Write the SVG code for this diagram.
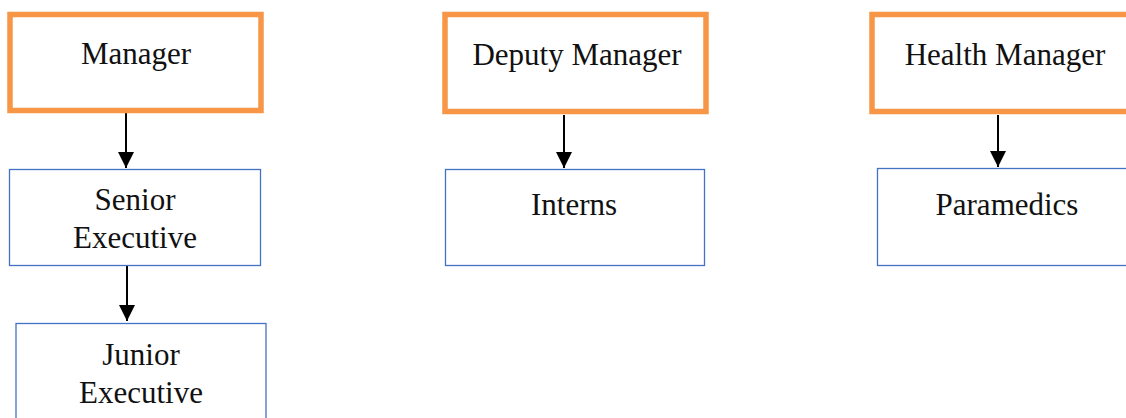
<svg xmlns="http://www.w3.org/2000/svg" width="1126" height="418" viewBox="0 0 1126 418">
<defs>
<style>
.top{fill:#fff;stroke:#F79646;stroke-width:5.5}
.sub{fill:#fff;stroke:#4472C4;stroke-width:1.3}
.t{font-family:"Liberation Serif","Times New Roman",serif;font-size:31px;fill:#111;text-anchor:middle}
.c{stroke:#000;stroke-width:2;fill:none}
</style>
<marker id="ah" markerUnits="userSpaceOnUse" markerWidth="16" markerHeight="16" refX="16" refY="8" orient="auto">
<path d="M0,0 L16,8 L0,16 Z" fill="#000"/>
</marker>
</defs>
<rect width="1126" height="418" fill="#fff"/>
<g id="connectors">
<line class="c" x1="126" y1="113" x2="126" y2="168" marker-end="url(#ah)"/>
<line class="c" x1="127" y1="266" x2="127" y2="321" marker-end="url(#ah)"/>
<line class="c" x1="564" y1="115" x2="564" y2="168" marker-end="url(#ah)"/>
<line class="c" x1="998" y1="115" x2="998" y2="167" marker-end="url(#ah)"/>
</g>
<g id="manager">
<rect class="top" x="10" y="14.5" width="251" height="96"/>
<text class="t" x="136" y="64">Manager</text>
</g>
<g id="senior-executive">
<rect class="sub" x="9.5" y="169.5" width="251" height="96"/>
<text class="t" x="135" y="210">Senior</text>
<text class="t" x="135" y="248">Executive</text>
</g>
<g id="junior-executive">
<rect class="sub" x="16" y="323.5" width="250" height="110"/>
<text class="t" x="141" y="365">Junior</text>
<text class="t" x="141" y="403">Executive</text>
</g>
<g id="deputy-manager">
<rect class="top" x="445" y="14.5" width="261" height="97"/>
<text class="t" x="577" y="65">Deputy Manager</text>
</g>
<g id="interns">
<rect class="sub" x="445.5" y="169.5" width="259" height="96"/>
<text class="t" x="574" y="215">Interns</text>
</g>
<g id="health-manager">
<rect class="top" x="872" y="14.5" width="270" height="97"/>
<text class="t" x="1005" y="65">Health Manager</text>
</g>
<g id="paramedics">
<rect class="sub" x="877.5" y="168.5" width="270" height="97"/>
<text class="t" x="1007" y="215">Paramedics</text>
</g>
</svg>
